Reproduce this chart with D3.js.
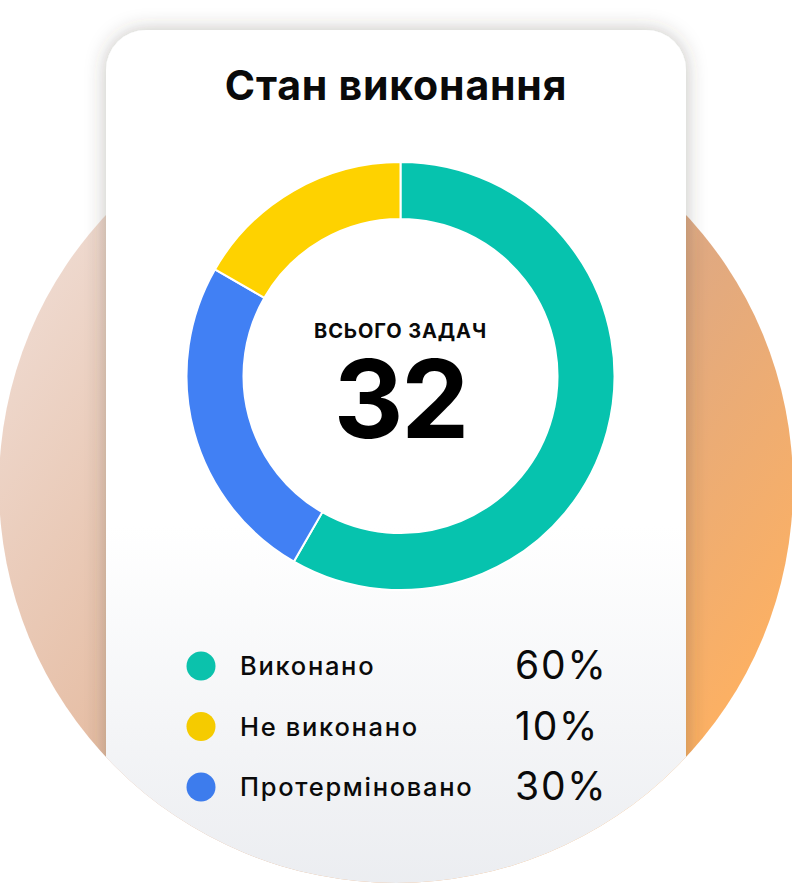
<!DOCTYPE html>
<html>
<head>
<meta charset="utf-8">
<script src="https://cdn.jsdelivr.net/npm/d3@7"></script>
<style>
  html, body { margin: 0; padding: 0; background: #ffffff; }
  svg { display: block; }
</style>
</head>
<body>
<svg id="chart" width="792" height="888"></svg>
<script>
// ---- data ----
const title = "Стан виконання";
const centerLabel = "ВСЬОГО ЗАДАЧ";
const totalTasks = 32;
// legend rows
const legendLabels = ["Виконано", "Не виконано", "Протерміновано"];
const legendPercents = ["60%", "10%", "30%"];
const legendColors = ["#0bc2ac", "#f5cb00", "#3d7ced"];
// donut segments in clockwise order from 12 o'clock (shares as read from the ring)
const arcCategories = ["Виконано", "Протерміновано", "Не виконано"];
const arcShares = [58.3, 25.0, 16.7];
const arcColors = ["#06c3ae", "#4180f4", "#fed200"];

// ---- drawing ----
const W = 792, H = 888;
const svg = d3.select("#chart");
const defs = svg.append("defs");

const bgGrad = defs.append("linearGradient").attr("id", "bgGrad")
  .attr("x1", "0.1").attr("y1", "0.2").attr("x2", "0.95").attr("y2", "0.8");
bgGrad.append("stop").attr("offset", "0").attr("stop-color", "#eed8cd");
bgGrad.append("stop").attr("offset", "0.4").attr("stop-color", "#e5bba0");
bgGrad.append("stop").attr("offset", "0.62").attr("stop-color", "#e0a981");
bgGrad.append("stop").attr("offset", "1").attr("stop-color", "#ffb160");

const cardGrad = defs.append("linearGradient").attr("id", "cardGrad")
  .attr("x1", "0").attr("y1", "0").attr("x2", "0").attr("y2", "1");
cardGrad.append("stop").attr("offset", "0").attr("stop-color", "#ffffff");
cardGrad.append("stop").attr("offset", "0.55").attr("stop-color", "#ffffff");
cardGrad.append("stop").attr("offset", "1").attr("stop-color", "#e9ebef");

const shadow = defs.append("filter").attr("id", "shadow")
  .attr("x", "-20%").attr("y", "-20%").attr("width", "140%").attr("height", "140%");
shadow.append("feDropShadow").attr("dx", 0).attr("dy", 0)
  .attr("stdDeviation", 10).attr("flood-color", "#4a3a30").attr("flood-opacity", 0.32);

const circ = { cx: 396, cy: 486, r: 397 };
const clip = defs.append("clipPath").attr("id", "clipU");
clip.append("circle").attr("cx", circ.cx).attr("cy", circ.cy).attr("r", circ.r);
clip.append("rect").attr("x", 0).attr("y", 0).attr("width", W).attr("height", circ.cy);

// background circle
svg.append("circle").attr("cx", circ.cx).attr("cy", circ.cy).attr("r", circ.r)
  .attr("fill", "url(#bgGrad)");

// card
const cardG = svg.append("g").attr("clip-path", "url(#clipU)");
cardG.append("rect")
  .attr("x", 106).attr("y", 30).attr("width", 580).attr("height", 900)
  .attr("rx", 40).attr("ry", 40)
  .attr("fill", "url(#cardGrad)")
  .attr("filter", "url(#shadow)");

// title
svg.append("text")
  .attr("x", 396).attr("y", 100)
  .attr("text-anchor", "middle")
  .attr("font-family", "Inter, 'Noto Sans', sans-serif")
  .attr("font-weight", 700)
  .attr("font-size", 41)
  .attr("letter-spacing", 0.8)
  .attr("fill", "#0a0a0a")
  .text(title);

// donut
const donut = { cx: 400.5, cy: 376, rOuter: 214, rInner: 157 };
const pie = d3.pie().sort(null).value(d => d.v);
const arcs = pie(arcShares.map((v, i) => ({ v, c: arcColors[i], k: arcCategories[i] })));
const arcGen = d3.arc().innerRadius(donut.rInner).outerRadius(donut.rOuter);
const dg = svg.append("g").attr("transform", `translate(${donut.cx},${donut.cy})`);
dg.selectAll("path").data(arcs).join("path")
  .attr("d", arcGen)
  .attr("fill", d => d.data.c)
  .attr("stroke", "#ffffff")
  .attr("stroke-width", 2);

dg.append("text")
  .attr("x", 0).attr("y", -38)
  .attr("text-anchor", "middle")
  .attr("font-family", "Inter, 'Noto Sans', sans-serif")
  .attr("font-weight", 700)
  .attr("font-size", 20)
  .attr("letter-spacing", 0.9)
  .attr("fill", "#0a0a0a")
  .text(centerLabel);

dg.append("text")
  .attr("x", 0).attr("y", 62)
  .attr("text-anchor", "middle")
  .attr("font-family", "Inter, 'Noto Sans', sans-serif")
  .attr("font-weight", 700)
  .attr("font-size", 108)
  .attr("letter-spacing", -2)
  .attr("fill", "#000000")
  .text(totalTasks);

// legend
const rowY = d3.scalePoint().domain(legendLabels).range([666, 787]);
const lg = svg.append("g");
const rows = lg.selectAll("g").data(legendLabels).join("g")
  .attr("transform", d => `translate(0,${rowY(d)})`);
rows.append("circle").attr("cx", 201).attr("cy", 0).attr("r", 14.5)
  .attr("fill", (d, i) => legendColors[i]);
rows.append("text").attr("x", 240).attr("y", 9)
  .attr("font-family", "Inter, 'Noto Sans', sans-serif")
  .attr("font-weight", 500)
  .attr("font-size", 25.5)
  .attr("letter-spacing", 1.7)
  .attr("fill", "#0a0a0a")
  .text(d => d);
rows.append("text").attr("x", 515).attr("y", 13)
  .attr("font-family", "Inter, 'Noto Sans', sans-serif")
  .attr("font-weight", 400)
  .attr("font-size", 39)
  .attr("letter-spacing", 1.8)
  .attr("fill", "#0a0a0a")
  .text((d, i) => legendPercents[i]);
</script>
</body>
</html>
